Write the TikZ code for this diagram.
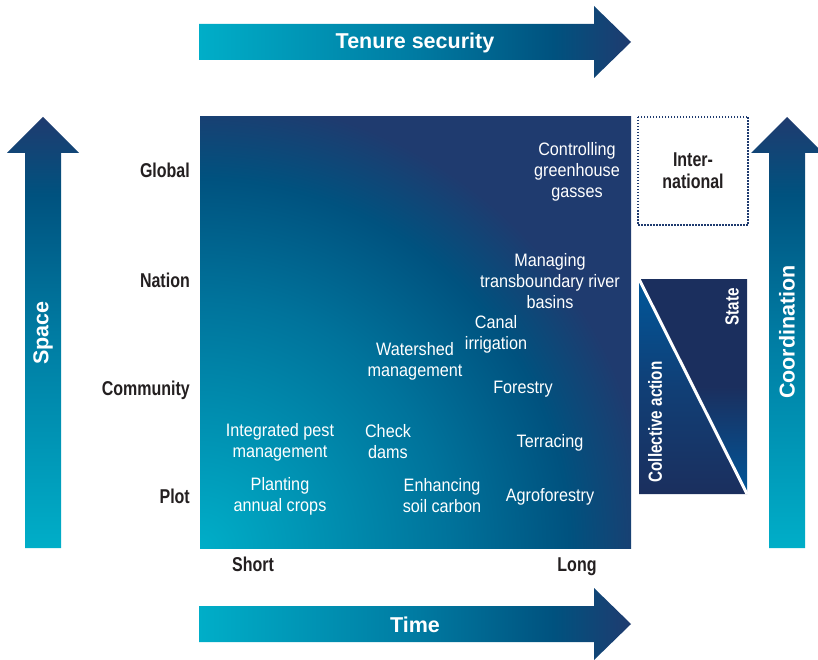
\documentclass[tikz,border=0pt]{standalone}
\usepackage{fontspec}
\setmainfont{Liberation Sans}
\newfontfamily\narrowsans{Liberation Sans}[FakeStretch=0.9]
\newfontfamily\narrowbold{Liberation Sans Bold}[FakeStretch=0.8]

\definecolor{glowcyan}{HTML}{00AEC8}
\definecolor{midteal}{HTML}{007BA2}
\definecolor{deepteal}{HTML}{00527F}
\definecolor{navyblue}{HTML}{1F3B6F}
\definecolor{inkblack}{HTML}{231F20}
\definecolor{boxnavy}{HTML}{1B2F5E}
\definecolor{boxblue}{HTML}{00579A}

% shadings for the arrows (bbox maps to 25bp..75bp)
\pgfdeclarehorizontalshading{flowright}{100bp}{color(0bp)=(glowcyan); color(25bp)=(glowcyan);
  color(50bp)=(midteal); color(66bp)=(deepteal); color(75bp)=(navyblue); color(100bp)=(navyblue)}
\pgfdeclareverticalshading{flowup}{100bp}{color(0bp)=(glowcyan); color(25bp)=(glowcyan);
  color(50bp)=(midteal); color(66bp)=(deepteal); color(75bp)=(navyblue); color(100bp)=(navyblue)}
% glow from the lower left corner of the square (radius 25bp = 700)
\pgfdeclareradialshading{cornerglow}{\pgfpoint{0bp}{0bp}}{color(0bp)=(glowcyan);
  color(8.9bp)=(midteal!80!deepteal); color(13.2bp)=(deepteal); color(16.1bp)=(navyblue); color(50bp)=(navyblue)}

\begin{document}
\begin{tikzpicture}[x=1pt,y=-1pt,
    axislabel/.style={text=white,font=\bfseries\fontsize{21.5}{24}\selectfont},
    scalelabel/.style={text=inkblack,font=\narrowbold\fontsize{20}{22}\selectfont},
    practice/.style={text=white,align=center,font=\narrowsans\fontsize{18}{21}\selectfont},
    govlabel/.style={text=white,rotate=90,font=\narrowbold\fontsize{19}{21}\selectfont}]

    \useasboundingbox (0,0) rectangle (818,660);

    % Define Coordinates
    \coordinate (SW) at (200,548);
    \coordinate (NE) at (631,117);

    % 1. The square with its glow
    \begin{scope}
        \clip (SW) rectangle (NE);
        \shade[shading=cornerglow] (SW) circle (700pt);
    \end{scope}

    % 2. The four arrows
    \shade[shading=flowright] (199,24) -- (594,24) -- (594,6) -- (631,42)
        -- (594,78) -- (594,60) -- (199,60) -- cycle;
    \shade[shading=flowright] (199,606) -- (594,606) -- (594,588) -- (631,624)
        -- (594,660) -- (594,642) -- (199,642) -- cycle;
    \shade[shading=flowup] (25,548) -- (25,153) -- (7,153) -- (43,117)
        -- (79,153) -- (61,153) -- (61,548) -- cycle;
    \shade[shading=flowup] (769,548) -- (769,153) -- (751,153) -- (787,117)
        -- (823,153) -- (805,153) -- (805,548) -- cycle;

    \node[axislabel] (tenure) at (415,43) {Tenure security};
    \node[axislabel] (time) at (415,625) {Time};
    \node[axislabel,rotate=90] (space) at (43,333) {Space};
    \node[axislabel,rotate=90] (coord) at (787,332) {Coordination};

    % 3. Scale labels
    \node[scalelabel,inner sep=0pt,anchor=base east] (global) at (190,178) {Global};
    \node[scalelabel,inner sep=0pt,anchor=base east] (nation) at (190,287) {Nation};
    \node[scalelabel,inner sep=0pt,anchor=base east] (community) at (190,395) {Community};
    \node[scalelabel,inner sep=0pt,anchor=base east] (plot) at (190,503) {Plot};
    \node[scalelabel,anchor=base] (short) at (253,571) {Short};
    \node[scalelabel,anchor=base] (long) at (577,571) {Long};

    % 4. Practices inside the square
    \node[practice] (ghg) at (577,172) {Controlling\\greenhouse\\gasses};
    \node[practice] (rivers) at (550,281) {Managing\\transboundary river\\basins};
    \node[practice] (canal) at (496,334) {Canal\\irrigation};
    \node[practice] (watershed) at (415,361) {Watershed\\management};
    \node[practice] (forestry) at (523,389) {Forestry};
    \node[practice] (ipm) at (280,442) {Integrated pest\\management};
    \node[practice] (dams) at (388,442) {Check\\dams};
    \node[practice] (terracing) at (550,443) {Terracing};
    \node[practice] (planting) at (280,496) {Planting\\annual crops};
    \node[practice] (soilcarbon) at (442,496) {Enhancing\\soil carbon};
    \node[practice] (agroforestry) at (550,497) {Agroforestry};

    % 5. International box
    \draw[navyblue,line width=1.5pt,dash pattern=on 1.5pt off 1.5pt] (638,117) rectangle (748,225);
    \node[scalelabel,align=center] (intl) at (693,171) {Inter-\\national};

    % 6. Collective action versus state
    \shade[top color=boxnavy,bottom color=boxblue,middle color=boxnavy]
        (639,279) -- (747,279) -- (747,494) -- cycle;
    \shade[top color=boxblue,bottom color=boxnavy,middle color=boxblue!40!boxnavy]
        (639,279) -- (747,494) -- (639,494) -- cycle;
    \draw[white,line width=3pt] (639,279) -- (747,494);
    \node[govlabel] (state) at (732,307) {State};
    \node[govlabel] (collective) at (655,422) {Collective action};

\end{tikzpicture}
\end{document}
